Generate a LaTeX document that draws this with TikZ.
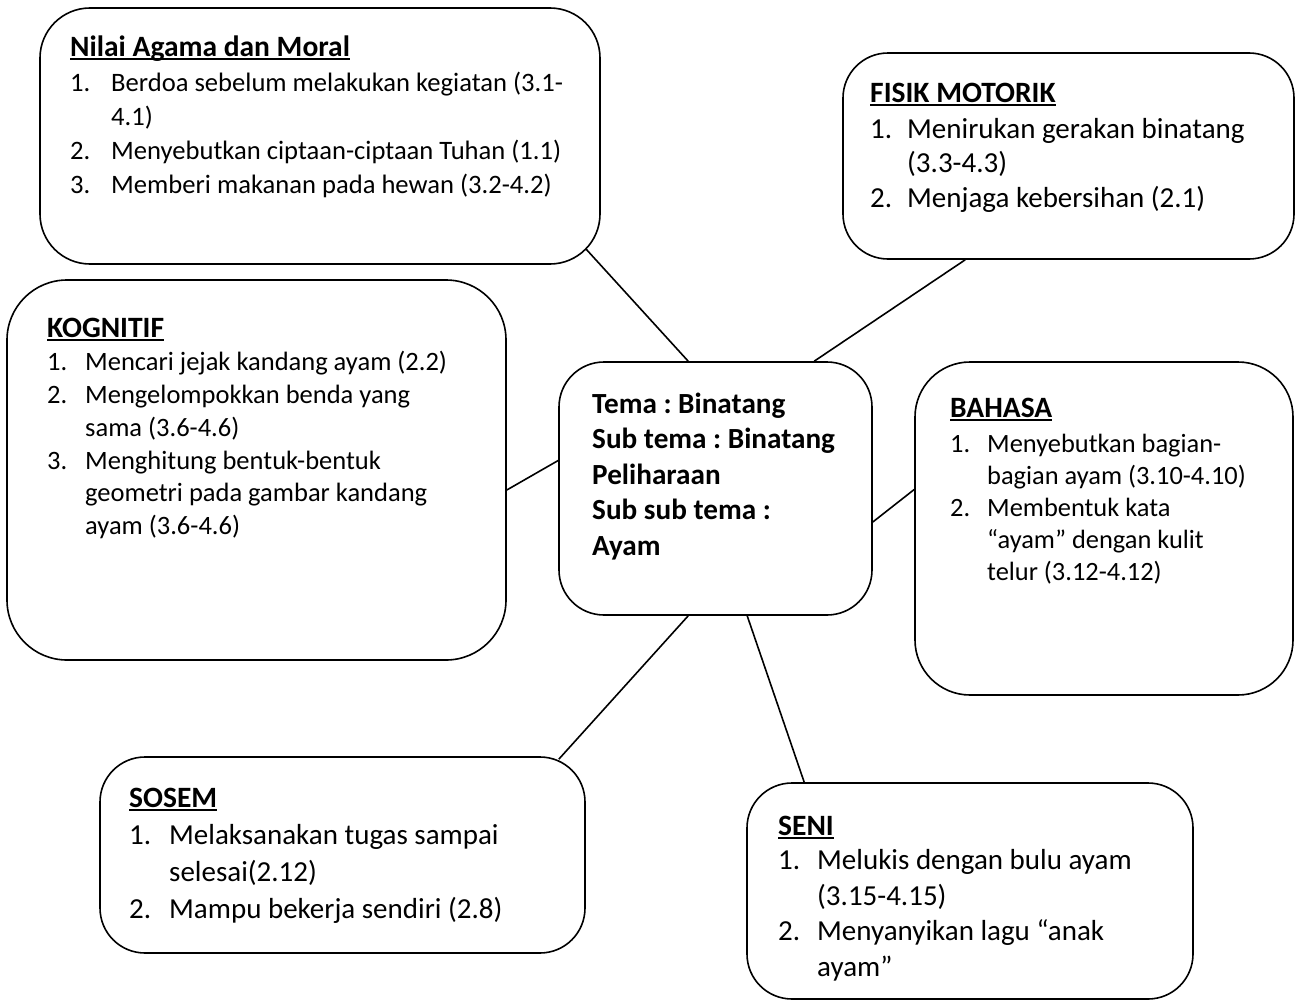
\documentclass[tikz,border=0pt]{standalone}
\usepackage{fontspec}
\setmainfont{Carlito}
\usetikzlibrary{calc}
\newcommand\ulx[1]{\sbox0{\fontsize{29.5}{30}\selectfont\bfseries #1}\rlap{\rule[-3.5pt]{\wd0}{1.6pt}}\usebox0}
\newcommand\tstrut{\rule{0pt}{30pt}}
\newcommand\itm[2]{\makebox[#1][l]{#2}}
\frenchspacing
\begin{document}
\begin{tikzpicture}[x=1pt,y=-1pt,
  box/.style={draw, line width=1.6pt, rounded corners=#1, inner sep=0pt},
  box/.default=45,
  txt/.style={anchor=north west, inner sep=0pt, align=left},
  link/.style={line width=1.6pt}]
\useasboundingbox (0,0) rectangle (1296,1001);

% boxes
\node[box=50, minimum width=560, minimum height=256] (nilai) at (320,136) {};
\node[box=45, minimum width=451, minimum height=206] (fisik) at (1068.5,156) {};
\node[box=60, minimum width=499, minimum height=380] (kog) at (256.5,470) {};
\node[box=45, minimum width=313, minimum height=253] (tema) at (715.5,488.5) {};
\node[box=55, minimum width=378, minimum height=333] (bahasa) at (1104,528.5) {};
\node[box=45, minimum width=485, minimum height=196] (sosem) at (342.5,855) {};
\node[box=45, minimum width=446, minimum height=216] (seni) at (970,891) {};

% connectors
\draw[link] ($(nilai.south east)+(-15,-16)$) -- ($(tema.north west)+(130,0)$);
\draw[link] ($(fisik.south west)+(123,0)$) -- ($(tema.north west)+(256,0)$);
\draw[link] ($(kog.east)+(0,20)$) -- ($(tema.west)+(0,-28)$);
\draw[link] ($(tema.east)+(0,33.5)$) -- ($(bahasa.west)+(0,-39)$);
\draw[link] ($(sosem.north east)+(-27,3)$) -- ($(tema.south west)+(130,0)$);
\draw[link] ($(seni.north west)+(58,0)$) -- ($(tema.south west)+(189,0)$);

% texts
\node[txt, font={\fontsize{26.6}{34}\selectfont}] (tnilai) at (70,26) {\tstrut\ulx{Nilai Agama dan Moral}\\[1pt]
\itm{41pt}{1.}Berdoa sebelum melakukan kegiatan (3.1-\\
\hspace*{41pt}4.1)\\
\itm{41pt}{2.}Menyebutkan ciptaan-ciptaan Tuhan (1.1)\\
\itm{41pt}{3.}Memberi makanan pada hewan (3.2-4.2)};

\node[txt, font={\fontsize{29}{34.7}\selectfont}] (tfisik) at (870,72) {\tstrut\ulx{FISIK MOTORIK}\\[1.3pt]
\itm{37pt}{1.}Menirukan gerakan binatang\\
\hspace*{37pt}(3.3-4.3)\\
\itm{37pt}{2.}Menjaga kebersihan (2.1)};

\node[txt, font={\fontsize{26.5}{32.7}\selectfont}] (tkog) at (47,307) {\tstrut\ulx{KOGNITIF}\\[1pt]
\itm{38pt}{1.}Mencari jejak kandang ayam (2.2)\\
\itm{38pt}{2.}Mengelompokkan benda yang\\
\hspace*{38pt}sama (3.6-4.6)\\
\itm{38pt}{3.}Menghitung bentuk-bentuk\\
\hspace*{38pt}geometri pada gambar kandang\\
\hspace*{38pt}ayam (3.6-4.6)};

\node[txt, font={\fontsize{29.2}{35.5}\selectfont\bfseries}] (ttema) at (592,383) {\tstrut Tema : Binatang\\
Sub tema : Binatang\\
Peliharaan\\
Sub sub tema :\\
Ayam};

\node[txt, font={\fontsize{26.4}{32}\selectfont}] (tbahasa) at (950,387) {\tstrut\ulx{BAHASA}\\[3pt]
\itm{37pt}{1.}Menyebutkan bagian-\\
\hspace*{37pt}bagian ayam (3.10-4.10)\\
\itm{37pt}{2.}Membentuk kata\\
\hspace*{37pt}“ayam” dengan kulit\\
\hspace*{37pt}telur (3.12-4.12)};

\node[txt, font={\fontsize{29}{37}\selectfont}] (tsosem) at (129,777) {\tstrut\ulx{SOSEM}\\
\itm{40pt}{1.}Melaksanakan tugas sampai\\
\hspace*{40pt}selesai(2.12)\\
\itm{40pt}{2.}Mampu bekerja sendiri (2.8)};

\node[txt, font={\fontsize{29}{35.5}\selectfont}] (tseni) at (778,805) {\tstrut\ulx{SENI}\\[-1pt]
\itm{39pt}{1.}Melukis dengan bulu ayam\\
\hspace*{39pt}(3.15-4.15)\\
\itm{39pt}{2.}Menyanyikan lagu “anak\\
\hspace*{39pt}ayam”};
\end{tikzpicture}
\end{document}
